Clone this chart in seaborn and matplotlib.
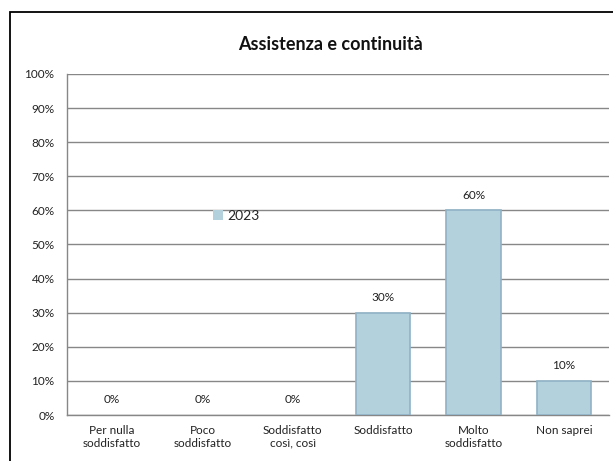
import matplotlib
matplotlib.use("Agg")
import matplotlib.pyplot as plt
import seaborn as sns
import pandas as pd
from matplotlib.patches import Rectangle
from matplotlib.ticker import FuncFormatter

# Data
categories = ["Per nulla\nsoddisfatto", "Poco\nsoddisfatto", "Soddisfatto\ncosì, così",
              "Soddisfatto", "Molto\nsoddisfatto", "Non saprei"]
values = [0, 0, 0, 30, 60, 10]
series_name = "2023"
title = "Assistenza e continuità"

df = pd.DataFrame({"cat": categories, "val": values, "serie": series_name})

sns.set_style("white")
plt.rcParams['font.family'] = ['Lato', 'DejaVu Sans']

fig = plt.figure(figsize=(6.13, 4.61), dpi=100)
ax = fig.add_axes([67 / 613, 46 / 461, 542 / 613, 341 / 461])

sns.barplot(data=df, x="cat", y="val", hue="serie", palette=["#acd3e4"],
            width=0.6, edgecolor="#8fb3c5", linewidth=1.2, ax=ax, zorder=3)

# no outline on empty bars
for p in ax.patches:
    if p.get_height() == 0:
        p.set_linewidth(0)

for c in ax.containers:
    ax.bar_label(c, labels=[f"{v:.0f}%" for v in values], padding=7, fontsize=8.5, color="#222222")

ax.set_ylim(0, 100)
ax.set_yticks(range(0, 101, 10))
ax.yaxis.set_major_formatter(FuncFormatter(lambda v, p: f"{v:.0f}%"))
ax.grid(axis="y", color="#878787", linewidth=1, zorder=0)
ax.set_axisbelow(True)
ax.set_xlabel("")
ax.set_ylabel("")
ax.tick_params(axis="both", length=0, labelsize=8.5, colors="#222222")
ax.tick_params(axis="y", pad=9)
ax.tick_params(axis="x", pad=7)
for s in ["top", "right"]:
    ax.spines[s].set_visible(False)
for s in ["left", "bottom"]:
    ax.spines[s].set_color("#878787")
    ax.spines[s].set_linewidth(1)

leg = ax.legend(loc="center left", bbox_to_anchor=(0.26, 0.585), frameon=False,
                fontsize=10, handlelength=0.7, handleheight=0.7, handletextpad=0.3,
                borderaxespad=0)

fig.text(330 / 613, 1 - 45 / 461, title, ha="center", va="center",
         fontsize=13, fontweight="bold", color="#111111")

# outer chart frame
fig.patches.append(Rectangle((10 / 613, -0.1), 1.1, 1 - 12 / 461 + 0.1,
                             transform=fig.transFigure, fill=False,
                             edgecolor="black", linewidth=1.3))

fig.savefig("out.png", dpi=100)
